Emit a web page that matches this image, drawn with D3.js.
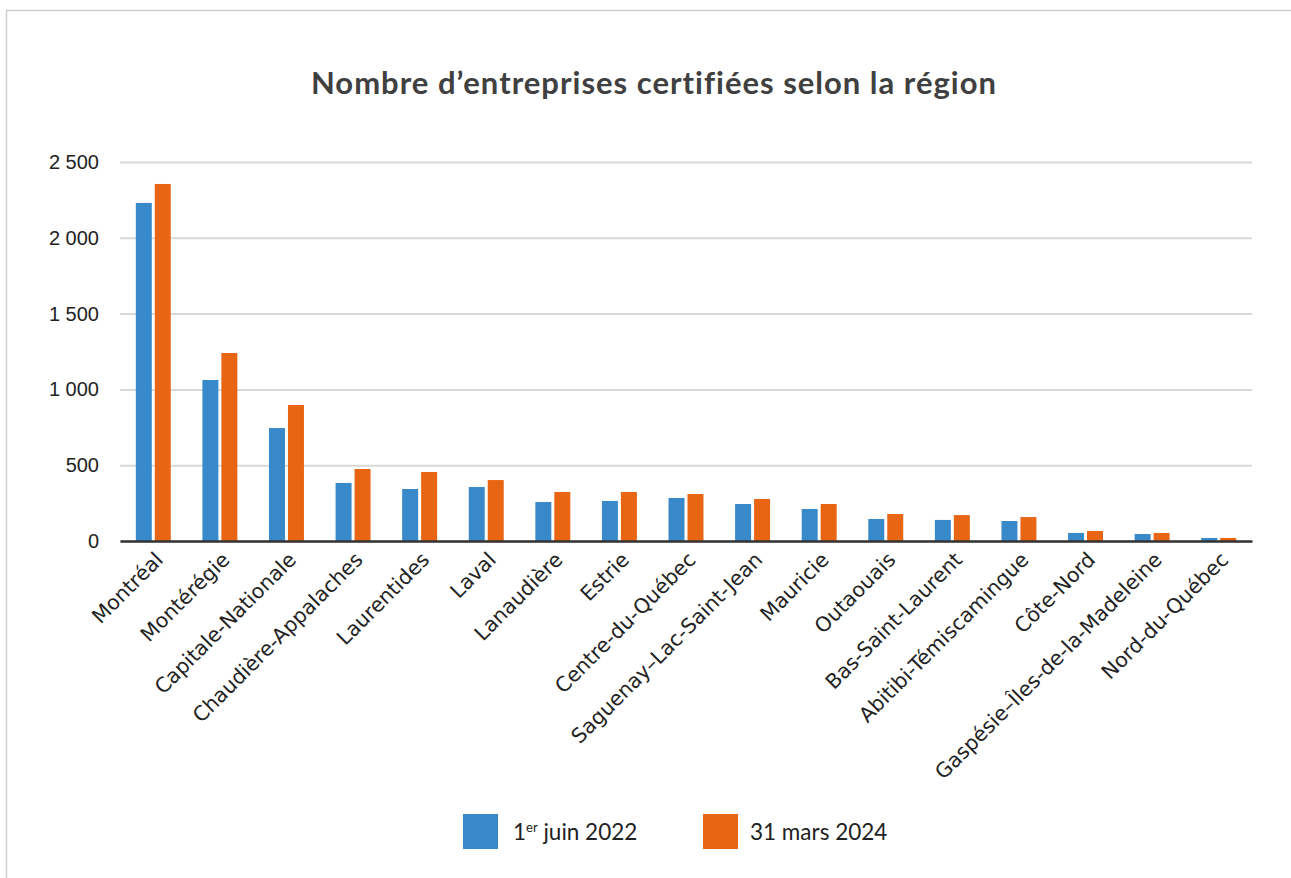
<!DOCTYPE html>
<html>
<head>
<meta charset="utf-8">
<script src="https://cdn.jsdelivr.net/npm/d3@7"></script>
<style>
  body { margin: 0; background: #fff; }
  svg { display: block; }
</style>
</head>
<body>
<script>
const regions = ["Montréal", "Montérégie", "Capitale-Nationale", "Chaudière-Appalaches", "Laurentides",
  "Laval", "Lanaudière", "Estrie", "Centre-du-Québec", "Saguenay–Lac-Saint-Jean", "Mauricie",
  "Outaouais", "Bas-Saint-Laurent", "Abitibi-Témiscamingue", "Côte-Nord",
  "Gaspésie–Îles-de-la-Madeleine", "Nord-du-Québec"];
const juin2022 = [2230, 1062, 745, 383, 343, 356, 257, 264, 284, 244, 211, 145, 139, 132, 53, 46, 20];
const mars2024 = [2355, 1240, 897, 475, 455, 402, 323, 323, 310, 277, 244, 178, 171, 158, 66, 53, 20];
const series = ["juin2022", "mars2024"];
const colors = ["#3889CA", "#E86513"];
const yTicks = [0, 500, 1000, 1500, 2000, 2500];

var width = 1291, height = 878;
var svg = d3.select("body").append("svg")
  .attr("width", width)
  .attr("height", height);

// frame
svg.append("rect")
  .attr("x", 6.5).attr("y", 10.5)
  .attr("width", 1300).attr("height", 900)
  .attr("fill", "none").attr("stroke", "#cfcfcf").attr("stroke-width", 1.5);

svg.append("text")
  .attr("x", 654).attr("y", 94)
  .attr("text-anchor", "middle")
  .attr("font-family", "Lato, sans-serif")
  .attr("font-weight", 700)
  .attr("font-size", 31)
  .attr("letter-spacing", 1)
  .attr("fill", "#404040")
  .text("Nombre d’entreprises certifiées selon la région");

var x0 = d3.scaleBand()
  .domain(regions)
  .range([120, 1252])
  .paddingInner(0.475)
  .paddingOuter(0.2375);

var x1 = d3.scaleBand()
  .domain(series)
  .range([0, x0.bandwidth()])
  .paddingInner(0.158);

var y = d3.scaleLinear()
  .domain([0, 2500])
  .range([541, 162]);

// grid
svg.append("g")
  .attr("transform", "translate(120,0)")
  .call(d3.axisLeft(y).tickValues(yTicks).tickSize(-1132).tickFormat(""))
  .call(g => g.select(".domain").remove())
  .call(g => g.selectAll("line").attr("stroke", "#d9d9d9").attr("stroke-width", 2));

// y labels
svg.append("g")
  .attr("transform", "translate(120,0)")
  .call(d3.axisLeft(y).tickValues(yTicks).tickSize(0).tickPadding(21)
    .tickFormat(d => d3.format(",")(d).replace(",", " ")))
  .call(g => g.select(".domain").remove())
  .call(g => g.selectAll("text")
    .attr("font-family", "'Liberation Sans', Arial, sans-serif")
    .attr("font-size", 20)
    .attr("fill", "#222"));

var rows = regions.map((r, i) => ({region: r, vals: [juin2022[i], mars2024[i]]}));

svg.append("g")
  .selectAll("g")
  .data(rows)
  .join("g")
  .attr("transform", d => "translate(" + x0(d.region) + ",0)")
  .selectAll("rect")
  .data(d => d.vals.map((v, j) => ({key: series[j], value: v, color: colors[j]})))
  .join("rect")
  .attr("x", d => x1(d.key))
  .attr("y", d => y(d.value))
  .attr("width", x1.bandwidth())
  .attr("height", d => y(0) - y(d.value))
  .attr("fill", d => d.color);

// x axis
var xAxis = svg.append("g")
  .attr("transform", "translate(0," + y(0) + ")")
  .call(d3.axisBottom(x0).tickSize(0).tickPadding(0));
xAxis.select(".domain").attr("stroke", "#333").attr("stroke-width", 2.5);
xAxis.selectAll("text")
  .attr("font-family", "'DejaVu Sans', Verdana, sans-serif")
  .attr("font-size", 20.5)
  .attr("fill", "#222")
  .attr("text-anchor", "end")
  .attr("dy", null)
  .attr("y", 0)
  .attr("transform", "translate(11,20) rotate(-45)");

// legend
var legendLabels = ["1er juin 2022", "31 mars 2024"];
var legendX = [463, 703];
var lg = svg.append("g")
  .selectAll("g")
  .data(series)
  .join("g")
  .attr("transform", (d, i) => "translate(" + legendX[i] + ",814)");
lg.append("rect")
  .attr("width", 35).attr("height", 35)
  .attr("fill", (d, i) => colors[i]);
var lt = lg.append("text")
  .attr("x", (d, i) => i == 0 ? 50 : 47)
  .attr("y", 26)
  .attr("font-family", "Lato, sans-serif")
  .attr("font-size", 22.5)
  .attr("fill", "#222");
lt.each(function(d, i) {
  var t = d3.select(this);
  if (i == 0) {
    t.append("tspan").text("1");
    t.append("tspan").attr("font-size", 13).attr("dy", -8).text("er");
    t.append("tspan").attr("dy", 8).text(" juin 2022");
  } else {
    t.text(legendLabels[i]);
  }
});
</script>
</body>
</html>
